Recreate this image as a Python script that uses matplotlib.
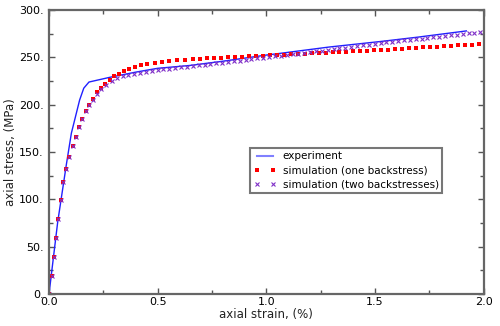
import numpy as np
import matplotlib
matplotlib.use("Agg")
import matplotlib.pyplot as plt
from matplotlib.ticker import MultipleLocator, FuncFormatter

# experiment (solid line)
exp_strain = [0.0, 0.04, 0.08, 0.103, 0.141, 0.16, 0.184, 0.28, 0.4, 0.5, 0.648,
              0.8, 1.0, 1.064, 1.29, 1.525, 1.7, 1.921]
exp_stress = [0.0, 76.0, 137.0, 170.0, 205.0, 217.5, 224.0, 229.0, 234.5, 238.5, 241.5,
              246.0, 252.5, 254.3, 261.0, 266.8, 271.5, 278.0]

# simulation, one backstress
one_strain = [0.0, 0.015, 0.025, 0.034, 0.043, 0.057, 0.066, 0.080, 0.094, 0.111,
              0.126, 0.138, 0.154, 0.171, 0.186, 0.203, 0.220, 0.240, 0.260, 0.280,
              0.298, 0.321, 0.344, 0.369, 0.395, 0.423, 0.453, 0.487, 0.520, 0.554,
              0.591, 0.628, 0.665, 0.697, 0.729, 0.761, 0.793, 0.825, 0.857, 0.889,
              0.921, 0.953, 0.985, 1.017, 1.049, 1.081, 1.113, 1.145, 1.177, 1.209,
              1.241, 1.273, 1.305, 1.337, 1.369, 1.401, 1.433, 1.465, 1.497, 1.529,
              1.561, 1.593, 1.625, 1.657, 1.689, 1.721, 1.753, 1.785, 1.817, 1.849,
              1.881, 1.913, 1.945, 1.977]
one_stress = [0.0, 19.0, 39.0, 59.0, 79.0, 99.0, 118.0, 132.0, 145.0, 156.0,
              166.0, 176.0, 185.0, 193.0, 200.0, 206.0, 213.0, 218.0, 222.0, 226.0,
              230.0, 233.0, 236.0, 238.0, 240.0, 241.5, 243.0, 244.0, 245.0, 246.0,
              247.0, 247.5, 248.2, 248.6, 249.0, 249.3, 249.7, 250.0, 250.4, 250.8,
              251.1, 251.5, 251.9, 252.3, 252.7, 253.0, 253.3, 253.6, 254.0, 254.3,
              254.6, 254.9, 255.3, 255.6, 255.9, 256.3, 256.6, 257.0, 257.4, 257.8,
              258.2, 258.6, 259.0, 259.6, 260.1, 260.5, 261.0, 261.4, 261.9, 262.3,
              262.7, 263.2, 263.6, 264.0]

# simulation, two backstresses
two_strain = [0.0, 0.015, 0.025, 0.034, 0.043, 0.057, 0.066, 0.080, 0.094, 0.111,
              0.126, 0.138, 0.154, 0.171, 0.186, 0.203, 0.220, 0.240, 0.262, 0.288,
              0.315, 0.339, 0.365, 0.392, 0.419, 0.446, 0.473, 0.500, 0.527, 0.554,
              0.581, 0.608, 0.635, 0.662, 0.689, 0.716, 0.743, 0.770, 0.797, 0.824,
              0.851, 0.878, 0.905, 0.932, 0.959, 0.986, 1.013, 1.040, 1.067, 1.094,
              1.121, 1.148, 1.175, 1.202, 1.229, 1.256, 1.283, 1.310, 1.337, 1.364,
              1.391, 1.418, 1.445, 1.472, 1.499, 1.526, 1.553, 1.580, 1.607, 1.634,
              1.661, 1.688, 1.715, 1.742, 1.769, 1.796, 1.823, 1.850, 1.877, 1.904,
              1.931, 1.958, 1.985]
two_stress = [0.0, 19.0, 39.0, 59.0, 79.0, 99.0, 118.0, 132.0, 145.0, 156.0,
              166.0, 176.0, 185.0, 193.0, 200.0, 205.0, 211.0, 217.0, 221.0, 225.0,
              228.0, 230.0, 231.5, 233.0, 234.0, 235.0, 236.0, 237.0, 237.5, 238.0,
              238.7, 239.5, 240.2, 240.9, 241.7, 242.4, 243.1, 243.8, 244.6, 245.3,
              246.0, 246.7, 247.4, 248.2, 248.9, 249.6, 250.3, 251.0, 251.7, 252.5,
              253.3, 254.1, 254.9, 255.7, 256.5, 257.3, 258.0, 258.8, 259.6, 260.4,
              261.2, 262.0, 262.8, 263.6, 264.4, 265.1, 265.8, 266.5, 267.2, 267.9,
              268.5, 269.2, 269.9, 270.6, 271.3, 272.0, 272.7, 273.4, 274.1, 274.8,
              275.5, 276.2, 276.9]

fig = plt.figure(figsize=(5.0, 3.26), dpi=100)
ax = fig.add_axes([0.098, 0.098, 0.869, 0.871])

ax.plot(exp_strain, exp_stress, color='#2020ff', lw=1.0, label='experiment')
ax.plot(one_strain, one_stress, ls='none', marker='s', ms=3.0, mew=0,
        color='#ff0000', label='simulation (one backstress)')
ax.plot(two_strain, two_stress, ls='none', marker='x', ms=2.6, mew=0.8,
        color='#8030c8', label='simulation (two backstresses)')

ax.set_xlim(0, 2.0)
ax.set_ylim(0, 300)
ax.xaxis.set_major_locator(MultipleLocator(0.5))
ax.xaxis.set_minor_locator(MultipleLocator(0.25))
ax.yaxis.set_major_locator(MultipleLocator(50))
ax.yaxis.set_minor_locator(MultipleLocator(25))
ax.xaxis.set_major_formatter(FuncFormatter(lambda v, p: '%.1f' % v))
ax.yaxis.set_major_formatter(FuncFormatter(lambda v, p: '%d.' % v))
ax.tick_params(which='both', direction='in', top=True, right=True,
               color='#555555', labelsize=8)
ax.tick_params(axis='x', pad=2)
ax.tick_params(axis='y', pad=4)
ax.tick_params(which='major', length=4, width=1)
ax.tick_params(which='minor', length=3, width=1)
for s in ax.spines.values():
    s.set_color('#666666')
    s.set_linewidth(1.6)

ax.set_xlabel('axial strain, (%)', fontsize=8.5, color='#222222', labelpad=1)
ax.set_ylabel('axial stress, (MPa)', fontsize=8.5, color='#222222', labelpad=1)

leg = ax.legend(loc='upper left', bbox_to_anchor=(0.462, 0.515), fontsize=7.5,
                frameon=True, fancybox=False, borderpad=0.35, handlelength=2.2,
                labelspacing=0.4, handletextpad=0.6, borderaxespad=0,
                numpoints=2)
leg.get_frame().set_edgecolor('#555555')
leg.get_frame().set_linewidth(1.5)
leg.get_lines()[0].set_color('#8080ff')
leg.get_lines()[0].set_linewidth(1.5)

fig.savefig('out.png', dpi=100)
